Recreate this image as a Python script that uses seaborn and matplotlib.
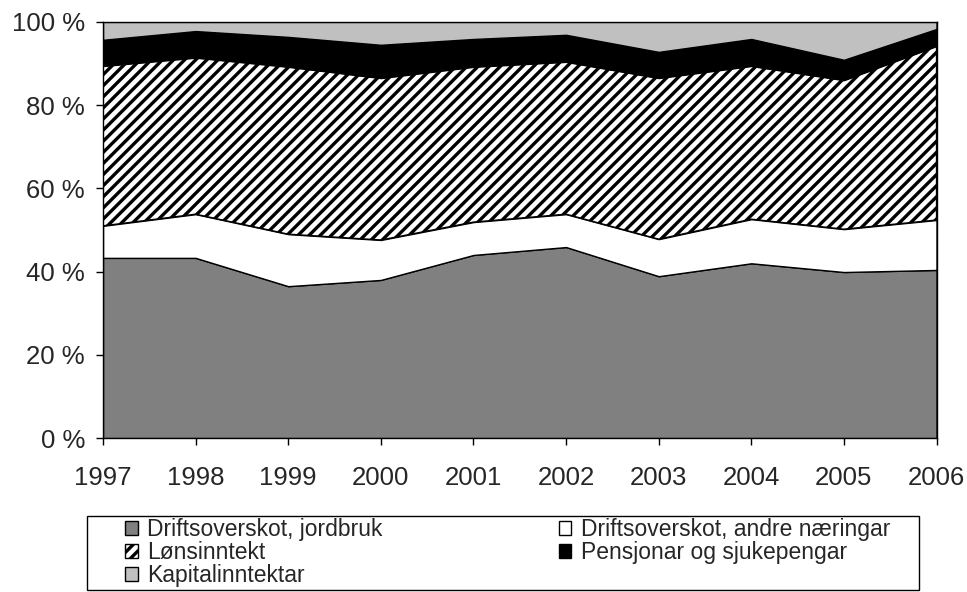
import seaborn as sns
import matplotlib.pyplot as plt
from matplotlib.patches import Patch, Rectangle

# income shares (percent)
years = [1997, 1998, 1999, 2000, 2001, 2002, 2003, 2004, 2005, 2006]
jordbruk = [43.3, 43.3, 36.5, 38.0, 44.0, 45.9, 38.9, 42.0, 39.9, 40.4]
andre = [7.7, 10.5, 12.5, 9.6, 7.9, 7.9, 8.9, 10.6, 10.3, 12.0]
lonn = [38.4, 37.6, 40.2, 38.9, 37.3, 36.6, 38.7, 36.8, 35.8, 41.8]
pensjon = [6.3, 6.4, 7.2, 8.0, 6.7, 6.5, 6.3, 6.5, 4.9, 4.1]
kapital = [4.3, 2.2, 3.6, 5.5, 4.1, 3.1, 7.2, 4.1, 9.1, 1.7]
labels = ['Driftsoverskot, jordbruk', 'Driftsoverskot, andre næringar',
          'Lønsinntekt', 'Pensjonar og sjukepengar', 'Kapitalinntektar']

sns.set_style('white')
plt.rcParams['font.family'] = ['Liberation Sans', 'DejaVu Sans']
plt.rcParams['hatch.linewidth'] = 2.4

fig = plt.figure(figsize=(9.67, 5.92), dpi=100)
ax = fig.add_axes([0.1065, 0.26, 0.862, 0.703])

colors = ['#808080', 'white', 'white', 'black', '#c0c0c0']
hatches = [None, None, '///', None, None]
polys = ax.stackplot(years, jordbruk, andre, lonn, pensjon, kapital,
                     colors=colors, edgecolor='black', linewidth=1)
for p, h in zip(polys, hatches):
    if h:
        p.set_hatch(h)

ax.set_xlim(1997, 2006)
ax.set_ylim(0, 100)
ax.set_xticks(years)
ax.set_yticks(range(0, 101, 20))
ax.set_yticklabels([f'{v} %' for v in range(0, 101, 20)])
ax.tick_params(axis='both', labelsize=18.5, direction='out', length=5,
               width=1, color='black', bottom=True, left=True, pad=8)
ax.tick_params(axis='x', pad=15)
for s in ax.spines.values():
    s.set_color('black')
    s.set_linewidth(1)

# legend box is drawn separately so the entries can sit with wide side margins
fig.patches.append(Rectangle((0.09, 0.0034), 0.8604, 0.125, transform=fig.transFigure,
                             facecolor='white', edgecolor='black', linewidth=1))

handles = [Patch(facecolor=c, edgecolor='black', hatch=h, linewidth=1)
           for c, h in zip(colors, hatches)]
# ncol fills column-wise, so reorder to get rows as in the reference
order = [0, 2, 4, 1, 3]
leg = fig.legend([handles[i] for i in order], [labels[i] for i in order],
                 ncol=2, loc='upper left',
                 bbox_to_anchor=(0.1293, 0.0034, 0.791, 0.122), mode='expand',
                 fontsize=16.5, frameon=False,
                 handlelength=0.55, handleheight=0.55, handletextpad=0.4,
                 labelspacing=0.0, borderpad=0, borderaxespad=0)

fig.savefig('out.png', dpi=100)
